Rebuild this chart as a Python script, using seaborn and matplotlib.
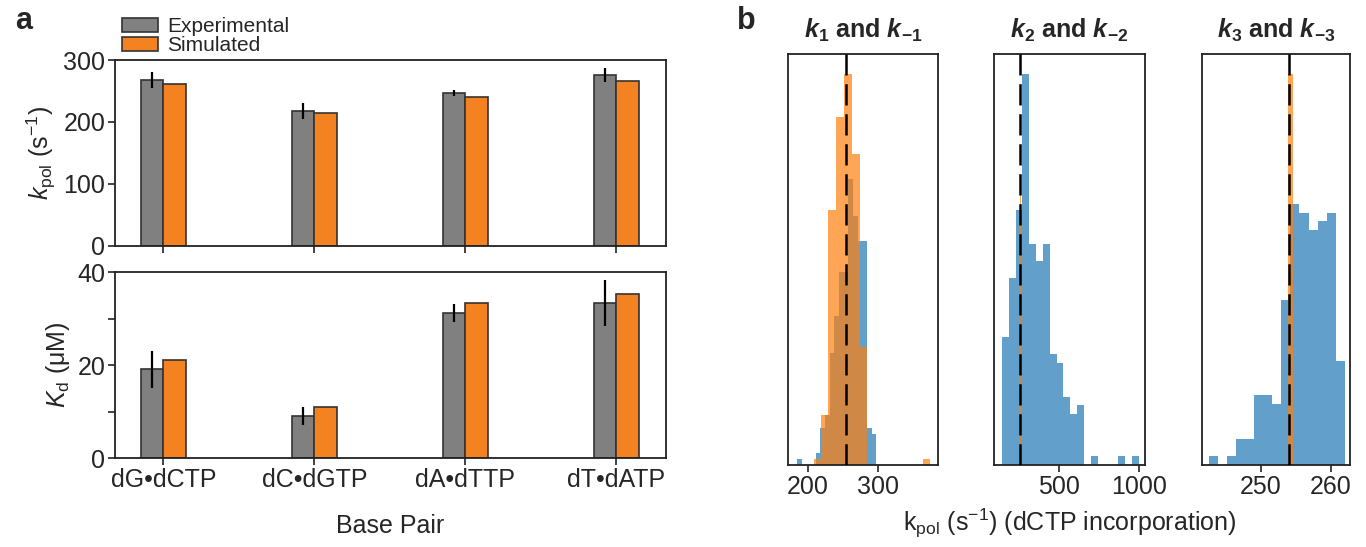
import numpy as np
import pandas as pd
import matplotlib
matplotlib.use("Agg")
import matplotlib.pyplot as plt
import seaborn as sns

# ---------------- data ----------------
categories = ["dG•dCTP", "dC•dGTP", "dA•dTTP", "dT•dATP"]
series = ["Experimental", "Simulated"]
kpol_exp = [268, 218, 247, 276]
kpol_exp_err = [13, 13, 5, 11]
kpol_sim = [261, 214, 240, 266]
kd_exp = [19.1, 9.0, 31.2, 33.3]
kd_exp_err = [4.0, 2.0, 2.0, 4.9]
kd_sim = [21.1, 11.0, 33.3, 35.3]

# panel b histograms (bin edges and counts)
h1_blue_edges = [185.0, 191.6, 198.3, 204.9, 211.5, 218.1, 224.8, 231.4, 238.0,
                 244.6, 251.3, 257.9, 264.5, 271.1, 277.8, 284.4, 291.0, 297.7]
h1_blue_counts = [1, 0, 0, 0, 2, 6, 8, 18, 24, 31, 31, 46, 40, 36, 36, 6, 5]
h1_orange_edges = [208.4, 218.6, 229.5, 240.5, 251.4, 262.9, 273.8, 284.7, 363.7, 374.4]
h1_orange_counts = [1, 8, 41, 56, 63, 50, 19, 0, 1]

h2_blue_edges = [140, 183, 226, 269, 312, 355, 398, 441, 484, 527, 570, 613, 656,
                 699, 742, 785, 828, 871, 914, 957, 1000]
h2_blue_counts = [15, 22, 30, 46, 26, 24, 26, 13, 12, 8, 6, 7, 0, 1, 0, 0, 0, 1, 0, 1]
h2_orange_edges = [251, 257]
h2_orange_counts = [33]

h3_blue_edges = [242.6, 243.9, 245.2, 246.5, 247.8, 249.0, 250.3, 251.6, 252.9,
                 254.2, 255.5, 256.8, 258.1, 259.4, 260.7, 262.0]
h3_blue_counts = [1, 0, 1, 3, 3, 8, 8, 7, 19, 30, 29, 27, 28, 29, 12]
h3_orange_edges = [253.9, 254.6]
h3_orange_counts = [45]

kpol_reference = 254
hist_titles = [r"$\mathbfit{k}_{\mathbf{1}}$ and $\mathbfit{k}_{\mathbf{-1}}$",
               r"$\mathbfit{k}_{\mathbf{2}}$ and $\mathbfit{k}_{\mathbf{-2}}$",
               r"$\mathbfit{k}_{\mathbf{3}}$ and $\mathbfit{k}_{\mathbf{-3}}$"]
hist_xlims = [(172, 385), (90, 1040), (241.6, 262.7)]
hist_xticks = [[200, 300], [500, 1000], [250, 260]]

# ---------------- style ----------------
sns.set_theme(style="ticks")
plt.rcParams['font.family'] = ['Liberation Sans', 'DejaVu Sans']
plt.rcParams['mathtext.fontset'] = 'custom'
plt.rcParams['mathtext.rm'] = 'Liberation Sans'
plt.rcParams['mathtext.it'] = 'Liberation Sans:italic'
plt.rcParams['mathtext.bf'] = 'Liberation Sans:bold'
try:
    plt.rcParams['mathtext.bfit'] = 'Liberation Sans:bold:italic'
except KeyError:
    pass
plt.rcParams['axes.edgecolor'] = '#222222'
plt.rcParams['axes.linewidth'] = 1.3

TICK_FS = 18
LABEL_FS = 18
grey = '#808080'
orange = '#f58220'

fig = plt.figure(figsize=(13.66, 5.47), dpi=100)
ax_top = fig.add_axes([0.0842, 0.5503, 0.4034, 0.3400])
ax_bot = fig.add_axes([0.0842, 0.1627, 0.4034, 0.3400])

df = pd.DataFrame({
    "Base Pair": categories * 2,
    "Series": [series[0]] * 4 + [series[1]] * 4,
    "kpol": kpol_exp + kpol_sim,
    "kd": kd_exp + kd_sim,
})
pal = {series[0]: grey, series[1]: orange}

for ax, col, errs, vals in [(ax_top, "kpol", kpol_exp_err, kpol_exp),
                            (ax_bot, "kd", kd_exp_err, kd_exp)]:
    sns.barplot(data=df, x="Base Pair", y=col, hue="Series", palette=pal,
                width=0.3, edgecolor='#333333', linewidth=1.2, errorbar=None,
                ax=ax, legend=(ax is ax_top), saturation=1)
    xs = [p.get_x() + p.get_width() / 2 for p in ax.containers[0]]
    ax.errorbar(xs, vals, yerr=errs, fmt='none', ecolor='black',
                elinewidth=1.6, capsize=0, zorder=5)
    ax.set_xlim(-0.32, 3.33)
    ax.tick_params(axis='both', direction='out', length=5, width=1.2,
                   labelsize=TICK_FS, pad=2, color='#222222')
    for s in ax.spines.values():
        s.set_visible(True)

ax_top.set_ylim(0, 300)
ax_top.set_yticks([0, 100, 200, 300])
ax_top.tick_params(labelbottom=False)
ax_top.set_xlabel("")
ax_top.set_ylabel(r"$k_{\rm pol}$ (s$^{-1}$)", fontsize=LABEL_FS, labelpad=4)
handles, labels = ax_top.get_legend_handles_labels()
ax_top.legend(handles, labels, loc='lower left', bbox_to_anchor=(0.012, 1.025),
              frameon=False, fontsize=15, handlelength=1.75, handleheight=0.7,
              labelspacing=0.0, handletextpad=0.45, borderaxespad=0.0,
              borderpad=0.0)

ax_bot.set_ylim(0, 40)
ax_bot.set_yticks([0, 10, 20, 30, 40])
ax_bot.set_yticklabels(['0', '', '20', '', '40'])
ax_bot.set_ylabel(r"$K_{\rm d}$ ($\rm \mu$M)", fontsize=LABEL_FS, labelpad=4)
ax_bot.set_xlabel("Base Pair", fontsize=LABEL_FS, labelpad=16)

# ---------------- panel b ----------------
hist_pos = [[0.5768, 0.1499, 0.1098, 0.7514],
            [0.7277, 0.1499, 0.1105, 0.7514],
            [0.8799, 0.1499, 0.1083, 0.7514]]
hist_data = [(h1_blue_edges, h1_blue_counts, h1_orange_edges, h1_orange_counts),
             (h2_blue_edges, h2_blue_counts, h2_orange_edges, h2_orange_counts),
             (h3_blue_edges, h3_blue_counts, h3_orange_edges, h3_orange_counts)]


def draw_hist(ax, edges, counts, color):
    mids = [(a + b) / 2 for a, b in zip(edges[:-1], edges[1:])]
    hdf = pd.DataFrame({"value": mids, "count": counts})
    sns.histplot(data=hdf, x="value", weights="count", bins=list(edges), ax=ax,
                 color=color, alpha=0.7, linewidth=0, edgecolor='none')


hist_axes = []
for i, (pos, (be, bc, oe, oc)) in enumerate(zip(hist_pos, hist_data)):
    ax = fig.add_axes(pos)
    hist_axes.append(ax)
    draw_hist(ax, be, bc, '#1f77b4')
    draw_hist(ax, oe, oc, '#ff7f0e')
    ax.axvline(kpol_reference, color='black', linewidth=1.8,
               linestyle=(0, (8.5, 3.5)), zorder=6)
    ax.set_xlim(*hist_xlims[i])
    ax.set_xticks(hist_xticks[i])
    ax.set_yticks([])
    ax.set_ylabel("")
    ax.set_xlabel("")
    ax.tick_params(axis='x', direction='out', length=5, width=1.2,
                   labelsize=TICK_FS, pad=2, color='#222222')
    for s in ax.spines.values():
        s.set_visible(True)
    ax.set_title(hist_titles[i], fontsize=18, fontweight='bold', pad=12)

hist_axes[1].set_xlabel(r"k$_{\rm pol}$ (s$^{-1}$) (dCTP incorporation)",
                        fontsize=LABEL_FS, labelpad=6)

fig.text(0.011, 0.962, 'a', fontsize=22, fontweight='bold', va='center')
fig.text(0.5395, 0.962, 'b', fontsize=22, fontweight='bold', va='center')

fig.savefig("out.png", dpi=100)
